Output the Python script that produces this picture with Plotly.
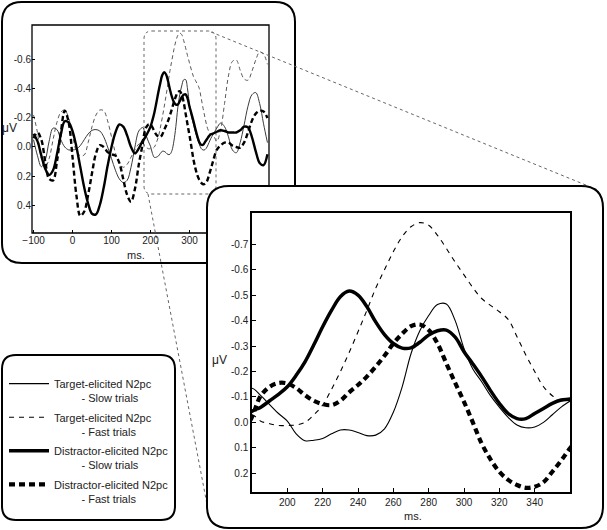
import plotly.graph_objects as go

W, H = 607, 530

# ---------------- data ----------------
time_ms = (list(range(-100, 180, 10)) + list(range(180, 365, 5)) + list(range(370, 510, 10)))

target_slow = [
    -0.05, 0.06, 0.136, 0.09, -0.04, -0.13, -0.12, -0.05, 0.0, 0.02, 0.02, 0.015, -0.01, -0.05,
    -0.09, -0.115, -0.12, -0.11, -0.07, 0.0, 0.08, 0.16, 0.22, 0.245, 0.23, 0.14, 0.0, -0.11,
    -0.134, -0.105, -0.07, -0.035, -0.005, 0.045, 0.072, 0.07, 0.063, 0.045, 0.03, 0.03, 0.04,
    0.052, 0.05, 0.025, -0.04, -0.14, -0.27, -0.36, -0.42, -0.463, -0.465, -0.4, -0.29, -0.21,
    -0.16, -0.105, -0.06, -0.02, 0.01, 0.021, 0.018, 0.0, -0.03, -0.06, -0.084,
    -0.13, -0.165, -0.14, -0.07, 0.02, 0.04, -0.03, -0.15, -0.28, -0.36, -0.375, -0.3, -0.16, -0.03,
]
target_fast = [
    -0.22, -0.1, 0.08, 0.14, 0.08, -0.05, -0.17, -0.24, -0.255, -0.2, -0.08, 0.03, 0.06, 0.055,
    -0.03, -0.14, -0.22, -0.255, -0.25, -0.18, -0.07, 0.04, 0.11, 0.14, 0.12, 0.07, 0.02, -0.02,
    -0.03, -0.005, 0.005, 0.012, 0.012, 0.01, 0.0, -0.03, -0.068, -0.13, -0.199, -0.275, -0.356,
    -0.44, -0.527, -0.6, -0.671, -0.73, -0.769, -0.785, -0.775, -0.735, -0.684, -0.63, -0.58, -0.53,
    -0.487, -0.46, -0.435, -0.405, -0.337, -0.265, -0.2, -0.14, -0.105, -0.085, -0.085,
    -0.04, -0.12, -0.3, -0.49, -0.59, -0.6, -0.53, -0.47, -0.46, -0.52, -0.6, -0.655, -0.64, -0.57,
]
distractor_slow = [
    -0.09, -0.04, 0.06, 0.15, 0.193, 0.16, 0.05, -0.086, -0.177, -0.17, -0.11, 0.0, 0.14, 0.28,
    0.39, 0.46, 0.465, 0.4, 0.28, 0.13, 0.0, -0.1, -0.155, -0.14, -0.08, 0.0, 0.044, 0.01,
    -0.044, -0.06, -0.085, -0.11, -0.14, -0.185, -0.238, -0.305, -0.376, -0.44, -0.494, -0.516,
    -0.5, -0.455, -0.395, -0.345, -0.31, -0.292, -0.293, -0.315, -0.343, -0.36, -0.363, -0.335,
    -0.278, -0.23, -0.18, -0.125, -0.075, -0.035, -0.015, -0.015, -0.035, -0.055, -0.075, -0.088, -0.092,
    -0.105, -0.115, -0.11, -0.1, -0.1, -0.1, -0.115, -0.14, -0.135, -0.07, 0.03, 0.11, 0.125, 0.05,
]
distractor_fast = [
    -0.06, -0.1, -0.05, 0.1, 0.22, 0.23, 0.1, -0.1, -0.25, -0.17, 0.07, 0.335, 0.475, 0.445,
    0.33, 0.18, 0.045, -0.012, 0.0, 0.035, 0.05, 0.06, 0.11, 0.22, 0.33, 0.377, 0.29, 0.12,
    -0.022, -0.105, -0.14, -0.155, -0.153, -0.135, -0.107, -0.085, -0.072, -0.068, -0.085, -0.118,
    -0.147, -0.18, -0.219, -0.262, -0.31, -0.348, -0.378, -0.385, -0.363, -0.31, -0.232, -0.155,
    -0.081, 0.0, 0.083, 0.145, 0.194, 0.226, 0.246, 0.257, 0.253, 0.235, 0.194, 0.15, 0.102,
    0.02, -0.01, -0.03, -0.03, -0.01, 0.0, 0.005, -0.03, -0.1, -0.18, -0.23, -0.25, -0.245, -0.2,
]

series_names = ["Target-elicited N2pc", "Target-elicited N2pc",
                "Distractor-elicited N2pc", "Distractor-elicited N2pc"]
series_sub = ["Slow trials", "Fast trials", "Slow trials", "Fast trials"]

overview_xticks = [-100, 0, 100, 200, 300]
overview_xtext = ["\u2212100", "0", "100", "200", "300"]
overview_yticks = [-0.6, -0.4, -0.2, 0.0, 0.2, 0.4]
overview_ytext = ["-0.6", "-0.4", "-0.2", "0.0", "0.2", "0.4"]
zoom_xticks = [200, 220, 240, 260, 280, 300, 320, 340]
zoom_yticks = [-0.7, -0.6, -0.5, -0.4, -0.3, -0.2, -0.1, 0.0, 0.1, 0.2]
zoom_ytext = ["-0.7", "-0.6", "-0.5", "-0.4", "-0.3", "-0.2", "-0.1", "0.0", "0.1", "0.2"]

# ---------------- helpers ----------------
def X(p):
    return p / W


def Y(p):
    return 1 - p / H


def rrect(x0, y0, x1, y1, r):
    return (f"M {X(x0 + r)},{Y(y0)} L {X(x1 - r)},{Y(y0)} Q {X(x1)},{Y(y0)} {X(x1)},{Y(y0 + r)} "
            f"L {X(x1)},{Y(y1 - r)} Q {X(x1)},{Y(y1)} {X(x1 - r)},{Y(y1)} "
            f"L {X(x0 + r)},{Y(y1)} Q {X(x0)},{Y(y1)} {X(x0)},{Y(y1 - r)} "
            f"L {X(x0)},{Y(y0 + r)} Q {X(x0)},{Y(y0)} {X(x0 + r)},{Y(y0)} Z")


FONT = "Liberation Sans, Arial, Helvetica, sans-serif"

over_styles = [
    dict(color="#3a3a3a", width=1.0, dash="solid"),
    dict(color="#5a5a5a", width=1.0, dash="4px,3px"),
    dict(color="black", width=2.4, dash="solid"),
    dict(color="black", width=2.4, dash="5px,3px"),
]
zoom_styles = [
    dict(color="black", width=1.1, dash="solid"),
    dict(color="black", width=1.1, dash="5px,5px"),
    dict(color="black", width=3.5, dash="solid"),
    dict(color="black", width=4.2, dash="6px,4px"),
]

all_series = [target_slow, target_fast, distractor_slow, distractor_fast]

fig = go.Figure()
for i, vals in enumerate(all_series):
    fig.add_trace(go.Scatter(x=time_ms, y=vals, mode="lines", line=dict(shape="spline", **over_styles[i]),
                             xaxis="x", yaxis="y", showlegend=False, hoverinfo="skip"))
for i, vals in enumerate(all_series):
    label = series_names[i] + "<br>" + "\u00a0" * 9 + "- " + series_sub[i]
    fig.add_trace(go.Scatter(x=time_ms, y=vals, mode="lines", line=dict(shape="spline", **zoom_styles[i]),
                             xaxis="x2", yaxis="y2", name=label, legendgroup=f"g{i}",
                             showlegend=True, hoverinfo="skip"))

tickfont = dict(family=FONT, size=10, color="#222")
common = dict(showgrid=False, zeroline=False, ticks="inside", tickcolor="black", automargin=False,
              tickwidth=1, tickfont=tickfont, fixedrange=True)

fig.update_layout(
    template="none",
    width=W, height=H, margin=dict(l=0, r=0, t=0, b=0, pad=0, autoexpand=False),
    paper_bgcolor="white", plot_bgcolor="white",
    font=dict(family=FONT, size=10, color="#222"),
    legend=dict(x=X(4), y=Y(370), xanchor="left", yanchor="top", bgcolor="rgba(0,0,0,0)",
                borderwidth=0, font=dict(family=FONT, size=11, color="#222"), itemwidth=40,
                valign="top", tracegroupgap=2, traceorder="grouped"),
    xaxis=dict(domain=[X(32), X(269)], range=[-104, 504], anchor="y", tickvals=overview_xticks,
               ticktext=overview_xtext, ticklen=3, showline=False, **common),
    yaxis=dict(domain=[Y(233), Y(25)], range=[0.593, -0.841], anchor="x", tickvals=overview_yticks,
               ticktext=overview_ytext, ticklen=3, showline=False, **common),
    xaxis2=dict(domain=[X(252), X(570)], range=[180, 360], anchor="y2", tickvals=zoom_xticks,
                ticklen=4, showline=True, mirror=True, linecolor="black", linewidth=1.5, **common),
    yaxis2=dict(domain=[Y(492), Y(213)], range=[0.2735, -0.823], anchor="x2", tickvals=zoom_yticks,
                ticktext=zoom_ytext, ticklen=4, showline=True, mirror=True, linecolor="black",
                linewidth=1.5, **common),
)

shapes = [
    dict(type="path", path=rrect(2, 2, 295, 263, 20), line=dict(color="black", width=2)),
    dict(type="rect", x0=X(32), x1=X(269), y0=Y(233), y1=Y(25), line=dict(color="black", width=1.3)),
    dict(type="path", path=rrect(144, 31, 216, 194, 8), line=dict(color="#666", width=1, dash="dot")),
    dict(type="line", x0=X(211), y0=Y(32), x1=X(598), y1=Y(190), line=dict(color="#666", width=1, dash="dot")),
    dict(type="line", x0=X(148), y0=Y(194), x1=X(209), y1=Y(515), line=dict(color="#666", width=1, dash="dot")),
    dict(type="path", path=rrect(207, 186, 603, 528, 22), fillcolor="white", line=dict(color="black", width=2)),
    dict(type="path", path=rrect(2, 355, 175, 520, 14), line=dict(color="black", width=2)),
]
for s in shapes:
    s.update(xref="paper", yref="paper", layer="below")
fig.update_layout(shapes=shapes)

def note(text, px, py, size):
    fig.add_annotation(text=text, x=X(px), y=Y(py), xref="paper", yref="paper", showarrow=False,
                       xanchor="center", yanchor="middle", font=dict(family=FONT, size=size, color="#222"))

note("\u03bcV", 9, 128, 12)
note("\u03bcV", 219, 360, 12)
note("ms.", 136, 255, 11)
note("ms.", 413, 516, 11)

fig.write_html("out.html", config={"displayModeBar": False},
               post_script="document.body.style.margin='0';")
